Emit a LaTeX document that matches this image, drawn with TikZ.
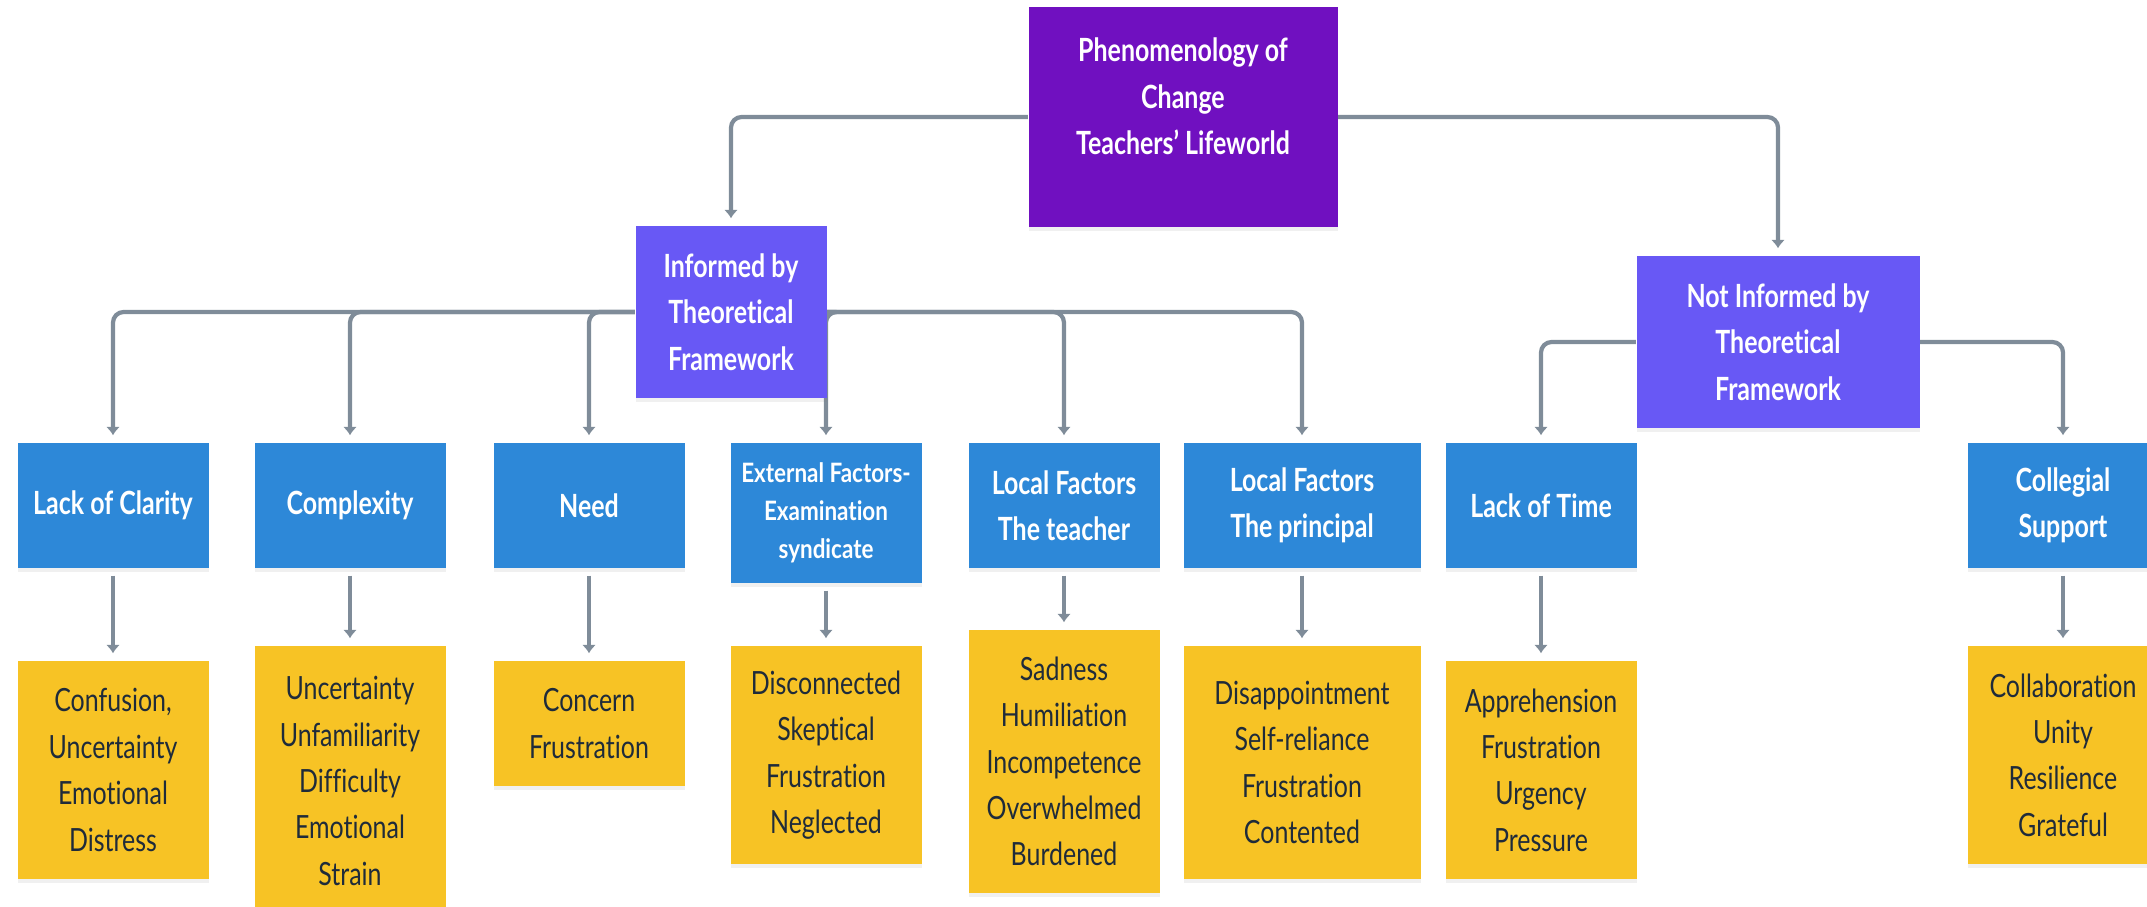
\documentclass[tikz,border=0pt]{standalone}
\usepackage{fontspec}
\setmainfont{Lato}[FakeStretch=0.78, Ligatures=NoCommon]
\newfontfamily\extfont{Lato}[FakeStretch=0.84, Ligatures=NoCommon]
\usetikzlibrary{arrows.meta, shadows, backgrounds}

\definecolor{rootpurple}{HTML}{7010C0}
\definecolor{branchviolet}{HTML}{6858F5}
\definecolor{themeblue}{HTML}{2D88D8}
\definecolor{emoyellow}{HTML}{F7C325}
\definecolor{emotext}{HTML}{1F2B3A}
\definecolor{linkgray}{HTML}{7F8C99}
\newcommand{\boxfont}{\fontsize{9.1}{13.2}\selectfont}

\begin{document}
\begin{tikzpicture}[>=Latex, line cap=round, line join=round,
	box/.style={rectangle, inner sep=0pt, align=center, minimum width=1.91cm,
		drop shadow={shadow xshift=0pt, shadow yshift=-1.2pt, opacity=0.12}},
	rootbox/.style={box, fill=rootpurple, minimum width=3.09cm, minimum height=2.2cm},
	branchbox/.style={box, fill=branchviolet, text=white, font=\boxfont\bfseries, minimum height=1.72cm},
	themebox/.style={box, fill=themeblue, text=white, font=\boxfont\bfseries, minimum height=1.25cm},
	emobox/.style={box, fill=emoyellow, text=emotext, font=\boxfont},
	link/.style={draw=linkgray, line width=1.2pt, rounded corners=3pt,
		-{Latex[length=2.4pt,width=4pt]}, shorten >=2pt}]

\useasboundingbox (0,0) rectangle (21.47,-9.06);

%========================
% Top: root and the two branches
%========================
\node[rootbox] (root) at (11.83,-1.17) {};
\node[text=white, font=\boxfont\bfseries, align=center] (rootlbl) at (11.83,-0.965)
	{Phenomenology of\\Change\\Teachers' Lifeworld};

\node[branchbox] (inf) at (7.31,-3.12) {Informed by\\Theoretical\\Framework};
\node[branchbox, minimum width=2.83cm] (ninf) at (17.78,-3.42) {Not Informed by\\Theoretical\\Framework};

%========================
% Middle: themes
%========================
\node[themebox] (lack) at (1.13,-5.055) {Lack of Clarity};
\node[themebox] (comp) at (3.50,-5.055) {Complexity};
\node[themebox] (need) at (5.89,-5.055) {Need};
\node[themebox, minimum height=1.40cm, font=\fontsize{7.6}{10.8}\selectfont\extfont\bfseries]
	(ext) at (8.26,-5.13) {External Factors-\\Examination\\syndicate};
\node[themebox] (loct) at (10.64,-5.055) {Local Factors\\The teacher};
\node[themebox, minimum width=2.37cm] (locp) at (13.02,-5.055) {Local Factors\\The principal};
\node[themebox] (time) at (15.41,-5.055) {Lack of Time};
\node[themebox] (coll) at (20.63,-5.055) {Collegial\\Support};

%========================
% Bottom: lived emotions
%========================
\node[emobox, minimum height=2.18cm] (lackc) at (1.13,-7.70) {Confusion,\\Uncertainty\\Emotional\\Distress};
\node[emobox, minimum height=2.70cm] (compc) at (3.50,-7.81) {Uncertainty\\Unfamiliarity\\Difficulty\\Emotional\\Strain};
\node[emobox, minimum height=1.25cm] (needc) at (5.89,-7.235) {Concern\\Frustration};
\node[emobox, minimum height=2.18cm] (extc) at (8.26,-7.55) {Disconnected\\Skeptical\\Frustration\\Neglected};
\node[emobox, minimum height=2.63cm] (loctc) at (10.64,-7.615) {Sadness\\Humiliation\\Incompetence\\Overwhelmed\\Burdened};
\node[emobox, minimum width=2.37cm, minimum height=2.33cm] (locpc) at (13.02,-7.625) {Disappointment\\Self-reliance\\Frustration\\Contented};
\node[emobox, minimum height=2.18cm] (timec) at (15.41,-7.70) {Apprehension\\Frustration\\Urgency\\Pressure};
\node[emobox, minimum height=2.18cm] (collc) at (20.63,-7.55) {Collaboration\\Unity\\Resilience\\Grateful};

%========================
% Connectors
%========================
\begin{scope}[on background layer]
	\draw[link] (root.west) -| (inf.north);
	\draw[link] (root.east) -| (ninf.north);
	% informed branch
	\foreach \child in {lack, comp, need}
		\draw[link] (inf.west) -| (\child.north);
	\foreach \child in {ext, loct, locp}
		\draw[link] (inf.east) -| (\child.north);
	% not informed branch
	\draw[link] (ninf.west) -| (time.north);
	\draw[link] (ninf.east) -| (coll.north);
	% theme to emotions
	\foreach \child in {lack, comp, need, ext, loct, locp, time, coll}
		\draw[link, shorten <=2pt] (\child.south) -- (\child c.north);
\end{scope}

\end{tikzpicture}
\end{document}
